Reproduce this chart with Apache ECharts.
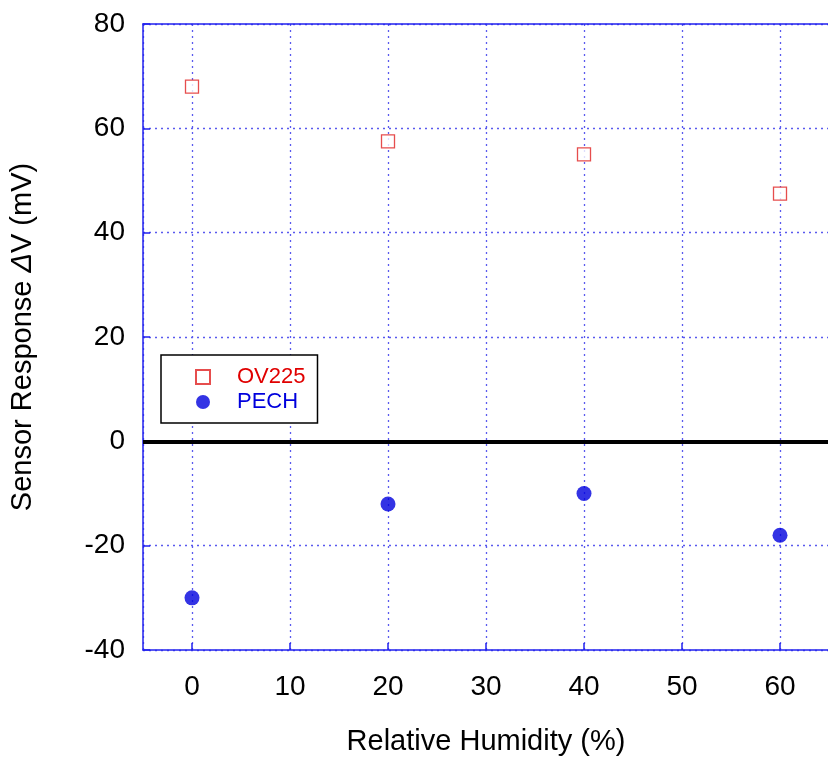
<!DOCTYPE html>
<html>
<head>
<meta charset="utf-8">
<script src="https://cdn.jsdelivr.net/npm/echarts@6/dist/echarts.min.js"></script>
<style>
  html, body { margin: 0; padding: 0; background: #fff; }
  #chart { width: 828px; height: 760px; }
</style>
</head>
<body>
<div id="chart"></div>
<script>
// Relative humidity (%) at which the sensors were measured
const humidity = [0, 20, 40, 60];
// Sensor response ΔV (mV) for each coating
const ov225 = [68, 57.5, 55, 47.5];
const pech = [-30, -12, -10, -18];
const seriesNames = ['OV225', 'PECH'];

const FONT = 'Liberation Sans, Arial, sans-serif';
const AXIS_BLUE = '#2222ee';
const GRID_BLUE = '#5a5aee';

const chart = echarts.init(document.getElementById('chart'), null, { renderer: 'canvas' });

const toPairs = (xs, ys) => xs.map((x, i) => [x, ys[i]]);

chart.setOption({
  animation: false,
  backgroundColor: '#ffffff',
  grid: {
    left: 143, right: -1, top: 24, bottom: 110,
    containLabel: false, outerBoundsMode: 'none'
  },
  legend: {
    left: 161, top: 355,
    orient: 'vertical',
    padding: [11, 12, 10, 34],
    itemGap: 3,
    itemWidth: 14, itemHeight: 14,
    borderColor: '#000', borderWidth: 1.5,
    backgroundColor: '#fff',
    textStyle: { fontFamily: FONT, fontSize: 22, padding: [0, 0, 0, 22] },
    data: [
      { name: seriesNames[0], textStyle: { color: '#e00000' } },
      { name: seriesNames[1], textStyle: { color: '#0000dd' } }
    ]
  },
  xAxis: [{
    // no fixed interval: ticks fall on the nice values 0, 10, ... 60
    type: 'value', min: -5, max: 65, splitNumber: 7,
    name: 'Relative Humidity (%)', nameLocation: 'middle', nameGap: 77,
    nameTextStyle: { fontFamily: FONT, fontSize: 29, color: '#000' },
    axisLine: { show: true, onZero: false, lineStyle: { color: AXIS_BLUE, width: 1.5 } },
    axisTick: { show: true, inside: true, length: 7, lineStyle: { color: AXIS_BLUE, width: 1.5 } },
    axisLabel: {
      fontFamily: FONT, fontSize: 28, color: '#000', margin: 23,
      showMinLabel: false, showMaxLabel: false,
      formatter: v => (v >= 0 && v <= 60 && v % 10 === 0) ? String(v) : ''
    },
    splitLine: { show: true, lineStyle: { color: GRID_BLUE, type: [2, 4], width: 1.3 } }
  }, {
    type: 'value', min: -5, max: 65, position: 'top',
    axisLine: { show: true, onZero: false, lineStyle: { color: AXIS_BLUE, width: 1.5 } },
    axisTick: { show: false }, axisLabel: { show: false }, splitLine: { show: false }
  }],
  yAxis: {
    type: 'value', min: -40, max: 80, interval: 20,
    name: '{n|Sensor Response }{d|Δ}{n|V (mV)}', nameLocation: 'middle', nameGap: 106,
    nameTextStyle: {
      rich: {
        n: { fontFamily: FONT, fontSize: 29, color: '#000' },
        d: { fontFamily: FONT, fontSize: 29, color: '#000', fontStyle: 'italic' }
      }
    },
    axisLine: { show: true, onZero: false, lineStyle: { color: AXIS_BLUE, width: 1.5 } },
    axisTick: { show: true, inside: true, length: 7, lineStyle: { color: AXIS_BLUE, width: 1.5 } },
    axisLabel: { fontFamily: FONT, fontSize: 28, color: '#000', margin: 18 },
    splitLine: { show: true, lineStyle: { color: GRID_BLUE, type: [2, 4], width: 1.3 } }
  },
  series: [
    {
      name: seriesNames[0], type: 'scatter',
      data: toPairs(humidity, ov225),
      symbol: 'rect', symbolSize: 13,
      itemStyle: { color: '#fff', borderColor: '#e02020', borderWidth: 1.3 },
      z: 5,
      markLine: {
        silent: true, symbol: 'none', label: { show: false },
        lineStyle: { color: '#000', width: 4, type: 'solid' },
        data: [{ yAxis: 0 }]
      }
    },
    {
      name: seriesNames[1], type: 'scatter',
      data: toPairs(humidity, pech),
      symbol: 'circle', symbolSize: 15,
      itemStyle: { color: '#0000dd' },
      z: 5
    }
  ]
});
</script>
</body>
</html>
